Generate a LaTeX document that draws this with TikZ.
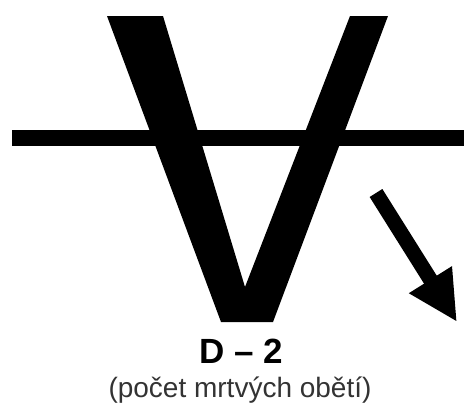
\documentclass[tikz,border=0pt]{standalone}
\usepackage{fontspec}
\setmainfont{Liberation Sans}
\usetikzlibrary{arrows.meta}
\tikzset{
  sign fill/.style={fill=black},
  water line/.style={line width=16pt, black},
  flow arrow/.style={line width=15pt, black, -{Triangle[length=50pt,width=47pt]}},
  code label/.style={font=\bfseries\fontsize{35}{40}\selectfont, inner sep=0pt},
  note label/.style={font=\fontsize{28}{30}\selectfont, black!80, inner sep=0pt},
}

\begin{document}
\begin{tikzpicture}[x=1pt, y=-1pt]
  \useasboundingbox (0,0) rectangle (464,405);
  % water surface
  \draw[water line] (12,138) -- (464,138);
  % the V sign
  \fill[sign fill] (107,16) -- (163,16) -- (245,287) -- (350,16) -- (388,16)
    -- (273,322) -- (221,322) -- cycle;
  % flow direction
  \coordinate (arrow start) at (376,193);
  \coordinate (arrow end) at (457,322);
  \draw[flow arrow] (arrow start) -- (arrow end);
  % labels
  \node[code label, anchor=base] (code) at (241,363) {D – 2};
  \node[note label, anchor=base] (note) at (240,397) {(počet mrtvých obětí)};
\end{tikzpicture}
\end{document}
